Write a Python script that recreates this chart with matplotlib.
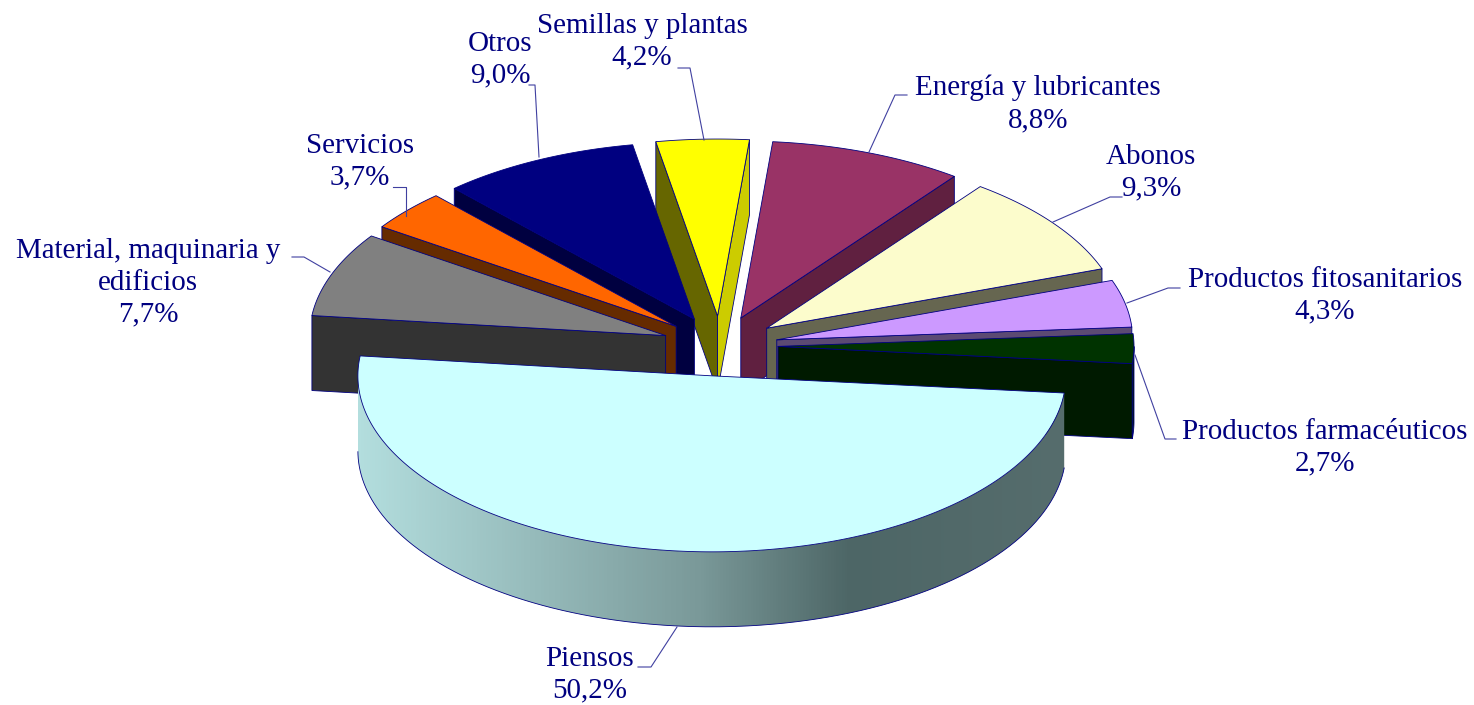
import numpy as np
import matplotlib
matplotlib.use('Agg')
import matplotlib.pyplot as plt
from matplotlib.colors import LinearSegmentedColormap
from matplotlib.patches import Polygon

# Slices, clockwise from the left end of Piensos
categories = ['Material, maquinaria y\nedificios', 'Servicios', 'Otros', 'Semillas y plantas',
              'Energía y lubricantes', 'Abonos', 'Productos fitosanitarios',
              'Productos farmacéuticos', 'Piensos']
values = [7.7, 3.7, 9.0, 4.2, 8.8, 9.3, 4.3, 2.7, 50.2]

top_colors = ['#808080', '#ff6600', '#000080', '#ffff00', '#993366', '#fcfccc', '#cc99ff', '#003300', '#ccffff']
left_walls = ['#333333', '#662b00', '#000040', '#666600', '#602040', '#666650', '#5c4a73', '#001a00', '#b0dcdc']
right_walls = ['#333333', '#662b00', '#000040', '#cccc00', '#602040', '#666650', '#5c4a73', '#001a00', '#4d6666']

# Label centres and leader lines, in pixels
label_pos = [(148, 283), (360, 162), (500, 60), (642, 42), (1038, 104), (1151, 173), (1325, 296), (1325, 448), (590, 675)]
leaders = [
    [(330, 272), (304, 257), (292, 257)],
    [(406, 216), (406, 187), (393, 187)],
    [(539, 157), (535, 85), (529, 85)],
    [(704, 140), (690, 68), (678, 68)],
    [(869, 152), (895, 95), (907, 95)],
    [(1053, 222), (1110, 197), (1122, 197)],
    [(1127, 303), (1168, 288), (1180, 288)],
    [(1135, 355), (1165, 439), (1176, 439)],
    [(677, 627), (651, 667), (638, 667)],
]

NAVY = '#000080'
CX, CY = 720, 346      # pie centre
A, B = 356, 177        # ellipse axes of the back slices
A_FRONT, B_FRONT = 354, 176
EX = 58                # explosion offset
EY = 30
DEPTH = 75
START = 173.5          # angle of the first edge, degrees

# Gradient along the front wall of Piensos
grad_x = np.array([358, 500, 700, 850, 1066])
grad_c = ['#b3dede', '#9cc2c2', '#7a9999', '#4d6666', '#566d6d']
grad_cmap = LinearSegmentedColormap.from_list('wall', list(zip((grad_x - 358) / 708, grad_c)))


def wall_visible(apex, p, q):
    # the radial wall shows when the slice lies above its edge on screen
    dx, dy = p[0] - apex[0], p[1] - apex[1]
    n = (-dy, dx) if dx > 0 else (dy, -dx)
    return n[0] * (q[0] - apex[0]) + n[1] * (q[1] - apex[1]) < 0


fig = plt.figure(figsize=(14.74, 7.05), dpi=100)
ax = fig.add_axes([0, 0, 1, 1])
ax.axis('off')

fracs = np.array(values) / sum(values) * 360
starts = START - np.concatenate([[0], np.cumsum(fracs)[:-1]])
ends = starts - fracs
mids = (starts + ends) / 2

# Paint from the back of the pie to the front
for i in np.argsort(-np.sin(np.radians(mids))):
    m = np.radians(mids[i])
    is_big = categories[i] == 'Piensos'
    a, b = (A_FRONT, B_FRONT) if is_big else (A, B)
    apex = (CX + EX * np.cos(m) - (2 if is_big else 0), CY - EY * np.sin(m))
    ts = np.linspace(starts[i], ends[i], 401)
    rad = np.radians(ts)
    arc = np.column_stack([apex[0] + a * np.cos(rad), apex[1] - b * np.sin(rad)])
    p_start, p_mid, p_end = arc[0], arc[200], arc[-1]

    for p, col in [(p_start, left_walls[i]), (p_end, right_walls[i])]:
        if wall_visible(apex, p, p_mid):
            ax.fill([apex[0], p[0], p[0], apex[0]],
                    [apex[1], p[1], p[1] + DEPTH, apex[1] + DEPTH],
                    facecolor=col, edgecolor=NAVY, linewidth=0.6)

    # outer wall on the front half only
    front = np.sin(rad) < 0
    if front.any():
        fx, fy = arc[front, 0], arc[front, 1]
        wall_xy = np.column_stack([np.r_[fx, fx[::-1]], np.r_[fy, fy[::-1] + DEPTH]])
        if is_big:
            img = ax.imshow(np.linspace(0, 1, 708).reshape(1, -1), cmap=grad_cmap, aspect='auto',
                            extent=(358, 1066, 640, 350), zorder=1)
            img.set_clip_path(Polygon(wall_xy, transform=ax.transData))
            ax.plot(fx, fy + DEPTH, color=NAVY, lw=0.6, zorder=1)
        else:
            ax.fill(wall_xy[:, 0], wall_xy[:, 1], facecolor=left_walls[i], edgecolor=NAVY, linewidth=0.6)

    ax.fill(np.r_[apex[0], arc[:, 0]], np.r_[apex[1], arc[:, 1]],
            facecolor=top_colors[i], edgecolor=NAVY, linewidth=0.6, joinstyle='round')

# Labels and leader lines
for i, name in enumerate(categories):
    lx, ly = zip(*leaders[i])
    ax.plot(lx, ly, color='#4040a0', lw=0.8)
    txt = name + '\n' + f'{values[i]:.1f}%'.replace('.', ',')
    ax.text(label_pos[i][0], label_pos[i][1], txt, ha='center', va='center', color=NAVY,
            fontsize=20.9, family='Liberation Serif', linespacing=1.28)

ax.set_xlim(0, 1474)
ax.set_ylim(705, 0)
fig.savefig('out.png', dpi=100)
